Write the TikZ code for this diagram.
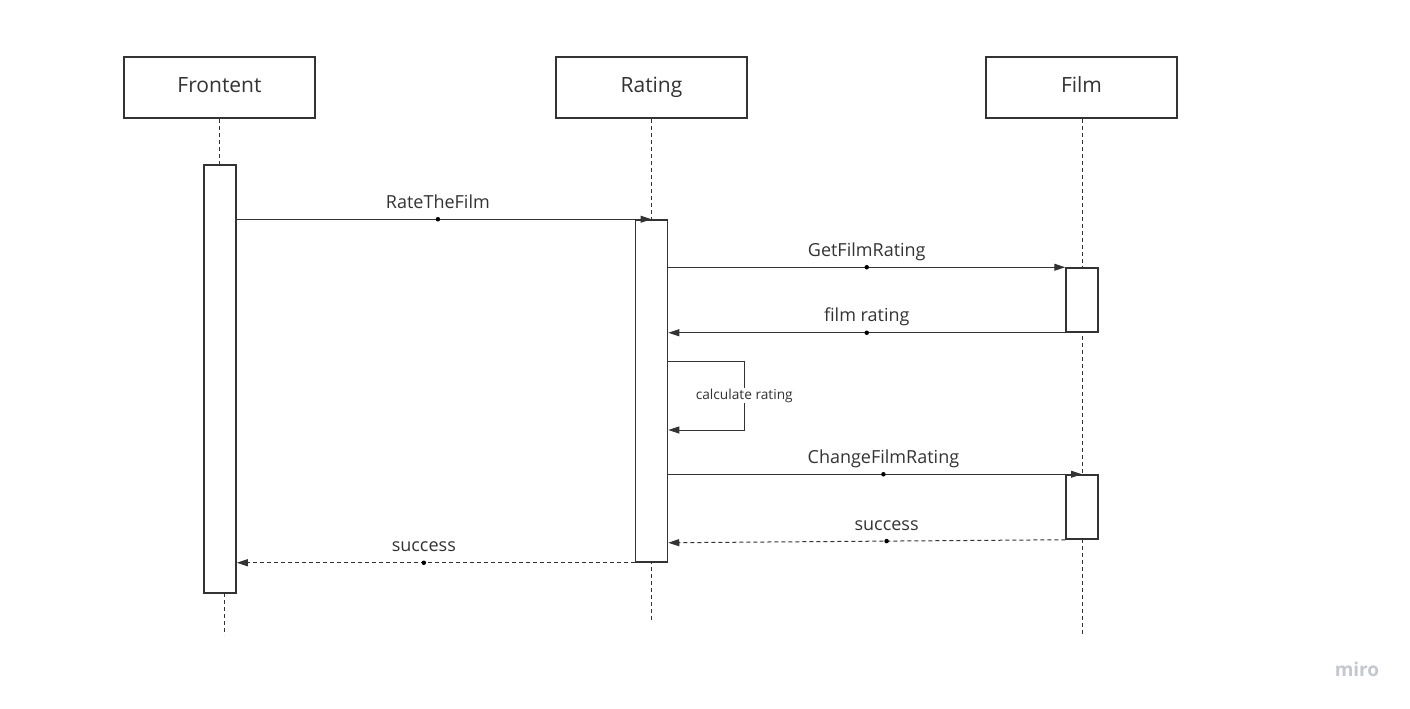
\documentclass[tikz,border=0pt]{standalone}
\usepackage{fontspec}
\setmainfont{Open Sans}
\usetikzlibrary{
  arrows.meta,
  positioning,
  calc
}
\definecolor{linegray}{HTML}{333333}
\definecolor{textgray}{HTML}{333333}
\definecolor{mirogray}{HTML}{C4C7CF}

\begin{document}
\begin{tikzpicture}[
  x=1pt, y=-1pt,
  font=\fontsize{18}{20}\selectfont,
  actor/.style={
    rectangle, draw=linegray, line width=1.5pt, fill=white,
    minimum width=191pt, minimum height=61pt, inner sep=0pt,
    text height=15pt, text depth=5pt,
    font=\fontsize{21}{24}\selectfont, text=textgray
  },
  act/.style={
    rectangle, draw=linegray, line width=1.5pt, fill=white,
    minimum width=32pt, inner sep=0pt
  },
  life/.style={linegray, line width=1pt, dash pattern=on 4pt off 3pt},
  msg/.style={-{Triangle[length=11pt,width=7pt]}, line width=1pt, linegray},
  reply/.style={msg, dash pattern=on 4pt off 3pt},
  lbl/.style={anchor=base, yshift=11pt, text=textgray},
  dot/.style={circle, fill=black, inner sep=0pt, minimum size=4.5pt},
]
\useasboundingbox (0,0) rectangle (1410,709);

% Participants
\node[actor] (front) at (219.5,87.5) {Frontent};
\node[actor] (rating) at (651.5,87.5) {Rating};
\node[actor] (film) at (1081.5,87.5) {Film};

% Lifelines
\coordinate (frontEnd) at (224,635);
\coordinate (ratingEnd) at (651.5,622);
\coordinate (filmEnd) at (1082,635);
\draw[life] (front.south) -- (219.5,165);
\draw[life] (frontEnd |- 0,593) -- (frontEnd);
\draw[life] (rating.south) -- (ratingEnd);
\draw[life] (film.south -| filmEnd) -- (filmEnd);

% Activations
\node[act, minimum height=428pt] (fa) at (220,379) {};
\node[act, minimum height=342pt] (ra) at (651.5,391) {};
\node[act, minimum height=64pt] (fb1) at (1082,300) {};
\node[act, minimum height=64pt] (fb2) at (1082,507) {};

% Messages
\draw[msg] (fa.east |- ra.north) -- (ratingEnd |- ra.north)
  node[dot, pos=0.485] (d1) {} node[lbl, pos=0.485] (l1) {RateTheFilm};
\draw[msg] (ra.east |- fb1.north) -- (fb1.north west)
  node[dot, midway] (d2) {} node[lbl, midway] (l2) {GetFilmRating};
\draw[msg] (fb1.south west) -- (ra.east |- fb1.south)
  node[dot, midway] (d3) {} node[lbl, midway] (l3) {film rating};
\draw[msg] ($(ra.east)+(0,-30)$) -- ++(76,0) |- ($(ra.east)+(0,39)$)
  node[pos=0.25, fill=white, inner sep=1pt, text=textgray,
    font=\fontsize{13.7}{15}\selectfont] (l4) {calculate rating};
\draw[msg] (ra.east |- fb2.north) -- (filmEnd |- fb2.north)
  node[dot, pos=0.52] (d5) {} node[lbl, pos=0.52] (l5) {ChangeFilmRating};
\draw[reply] (fb2.south west) -- ($(ra.east |- fb2.south)+(0,3)$)
  node[dot, pos=0.45] (d6) {} node[lbl, pos=0.45] (l6) {success};
\draw[reply] (ra.south west) -- (fa.east |- ra.south)
  node[dot, pos=0.53] (d7) {} node[lbl, pos=0.53] (l7) {success};

% Watermark
\node[text=mirogray, font=\fontsize{19}{20}\selectfont\bfseries] (miro) at (1357,669) {miro};

\end{tikzpicture}
\end{document}
